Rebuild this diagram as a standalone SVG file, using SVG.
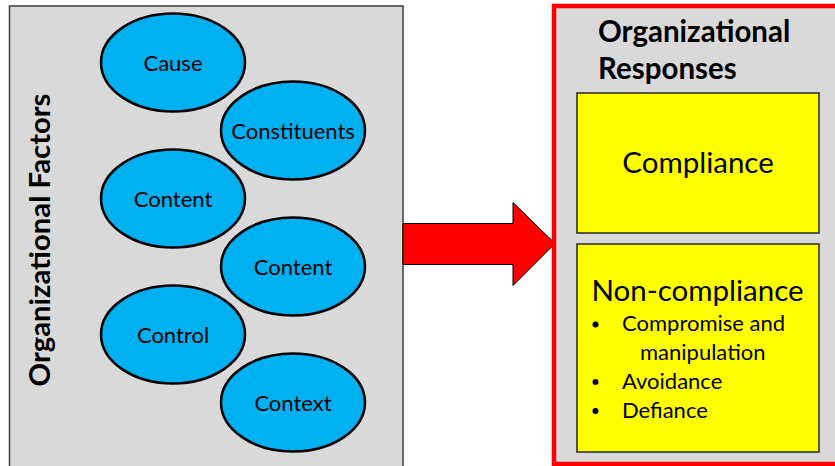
<svg xmlns="http://www.w3.org/2000/svg" width="835" height="466" viewBox="0 0 835 466">
  <style>
    .panel { fill: #D9D9D9; stroke: #3a3a3a; stroke-width: 1.5; }
    .factor ellipse { fill: #00B0F0; stroke: #000; stroke-width: 2.5; }
    .factor text { font-family: Lato, "Liberation Sans", sans-serif; font-size: 22px; fill: #000; text-anchor: middle; }
    .title { font-family: Lato, "Liberation Sans", sans-serif; font-weight: bold; fill: #000; }
    .resp rect { fill: #FFFF00; stroke: #262626; stroke-width: 1.5; }
    .resp text { font-family: Lato, "Liberation Sans", sans-serif; fill: #000; }
  </style>
  <rect width="835" height="466" fill="#FFFFFF"/>

  <!-- Left panel: organizational factors -->
  <g id="factors-panel">
    <rect class="panel" x="9.5" y="6" width="393.5" height="470"/>
    <text class="title" font-size="28" transform="translate(50,240) rotate(-90)" text-anchor="middle" textLength="293" lengthAdjust="spacingAndGlyphs">Organizational Factors</text>
  </g>

  <g id="cause" class="factor">
    <ellipse cx="173" cy="62.5" rx="72" ry="49"/>
    <text x="173" y="70.5">Cause</text>
  </g>
  <g id="constituents" class="factor">
    <ellipse cx="293" cy="130.5" rx="72" ry="49"/>
    <text x="293" y="138.5">Constituents</text>
  </g>
  <g id="content-1" class="factor">
    <ellipse cx="173" cy="198.5" rx="72" ry="49"/>
    <text x="173" y="206.5">Content</text>
  </g>
  <g id="content-2" class="factor">
    <ellipse cx="293" cy="266.5" rx="72" ry="49"/>
    <text x="293" y="274.5">Content</text>
  </g>
  <g id="control" class="factor">
    <ellipse cx="173" cy="334.5" rx="72" ry="49"/>
    <text x="173" y="342.5">Control</text>
  </g>
  <g id="context" class="factor">
    <ellipse cx="293" cy="402.5" rx="72" ry="49"/>
    <text x="293" y="410.5">Context</text>
  </g>

  <!-- Connector: block arrow from factors to responses -->
  <g id="connectors">
    <path d="M403,223.5 H513 V202.5 L555,243.5 L513,285.5 V264.5 H403 Z" fill="#FF0000" stroke="#000" stroke-width="1"/>
  </g>

  <!-- Right panel: organizational responses -->
  <g id="responses-panel">
    <rect x="554" y="6" width="300" height="458" fill="#D9D9D9" stroke="#FF0000" stroke-width="4.5"/>
    <text class="title" font-size="29.5" x="598" y="42">Organizational</text>
    <text class="title" font-size="29.5" x="598" y="79">Responses</text>
  </g>

  <g id="compliance" class="resp">
    <rect x="577" y="93" width="242" height="140"/>
    <text x="698" y="173" font-size="29.5" text-anchor="middle">Compliance</text>
  </g>

  <g id="non-compliance" class="resp">
    <rect x="577" y="244" width="242" height="208"/>
    <text x="697.5" y="301" font-size="29.5" text-anchor="middle">Non-compliance</text>
    <g font-size="22">
      <circle cx="595.5" cy="324.5" r="3" fill="#000"/>
      <text x="622" y="331">Compromise and</text>
      <text x="640" y="360">manipulation</text>
      <circle cx="595.5" cy="382" r="3" fill="#000"/>
      <text x="622" y="389">Avoidance</text>
      <circle cx="595.5" cy="411" r="3" fill="#000"/>
      <text x="622" y="418">Defiance</text>
    </g>
  </g>
</svg>
